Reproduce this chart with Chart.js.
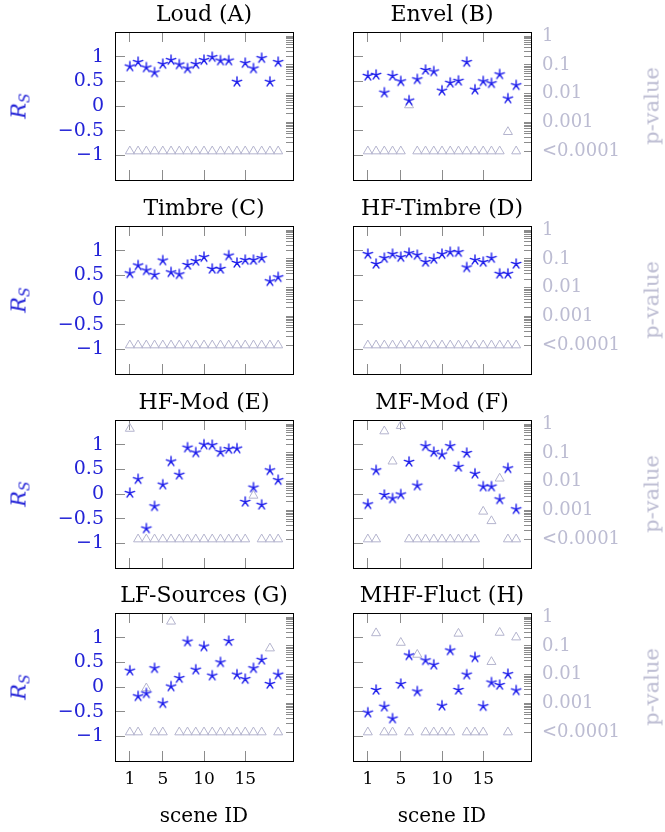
<!DOCTYPE html>
<html>
<head>
<meta charset="utf-8">
<script src="https://cdn.jsdelivr.net/npm/chart.js@4.4.1/dist/chart.umd.min.js"></script>
<style>
  html, body { margin: 0; padding: 0; background: #fff; }
  #wrap { position: relative; width: 665px; height: 832px; overflow: hidden; font-family: 'DejaVu Serif', serif; }
  #wrap canvas { position: absolute; }
  .rs, .pv { position: absolute; transform: translate(-50%, -50%) rotate(-90deg); white-space: nowrap; line-height: 1; }
  .rs { color: rgb(35, 35, 215); font-size: 21px; font-style: italic; }
  .rs sub { font-size: 14px; vertical-align: -4px; }
  .pv { color: rgb(188, 188, 210); font-size: 21px; }
</style>
</head>
<body>
<div id="wrap"></div>
<script>
// --- Data ---
const SCENES = [1, 2, 3, 4, 5, 6, 7, 8, 9, 10, 11, 12, 13, 14, 15, 16, 17, 18, 19];
const X_TICKS = [1, 5, 10, 15];
const RS_TICKS = [-1, -0.5, 0, 0.5, 1];
const P_TICKS = [1, 0.1, 0.01, 0.001, 0.0001];
const P_LABELS = ['1', '0.1', '0.01', '0.001', '<0.0001'];

const TITLES = ['Loud (A)', 'Envel (B)', 'Timbre (C)', 'HF-Timbre (D)', 'HF-Mod (E)', 'MF-Mod (F)', 'LF-Sources (G)', 'MHF-Fluct (H)'];

const loudRs = [0.80, 0.89, 0.78, 0.68, 0.85, 0.93, 0.84, 0.76, 0.85, 0.93, 0.99, 0.92, 0.92, 0.49, 0.87, 0.76, 0.97, 0.49, 0.89];
const loudP = [0.0001, 0.0001, 0.0001, 0.0001, 0.0001, 0.0001, 0.0001, 0.0001, 0.0001, 0.0001, 0.0001, 0.0001, 0.0001, 0.0001, 0.0001, 0.0001, 0.0001, 0.0001, 0.0001];

const envelRs = [0.61, 0.63, 0.27, 0.61, 0.50, 0.11, 0.54, 0.73, 0.70, 0.31, 0.47, 0.51, 0.89, 0.33, 0.50, 0.46, 0.64, 0.15, 0.42];
const envelP = [0.0001, 0.0001, 0.0001, 0.0001, 0.0001, 0.004, 0.0001, 0.0001, 0.0001, 0.0001, 0.0001, 0.0001, 0.0001, 0.0001, 0.0001, 0.0001, 0.0001, 0.00047, 0.0001];

const timbreRs = [0.54, 0.70, 0.60, 0.51, 0.80, 0.56, 0.52, 0.71, 0.79, 0.87, 0.63, 0.63, 0.90, 0.75, 0.81, 0.81, 0.85, 0.38, 0.46];
const timbreP = [0.0001, 0.0001, 0.0001, 0.0001, 0.0001, 0.0001, 0.0001, 0.0001, 0.0001, 0.0001, 0.0001, 0.0001, 0.0001, 0.0001, 0.0001, 0.0001, 0.0001, 0.0001, 0.0001];

const hfTimbreRs = [0.93, 0.73, 0.85, 0.93, 0.87, 0.95, 0.91, 0.77, 0.83, 0.93, 0.97, 0.97, 0.66, 0.81, 0.77, 0.85, 0.53, 0.53, 0.73];
const hfTimbreP = [0.0001, 0.0001, 0.0001, 0.0001, 0.0001, 0.0001, 0.0001, 0.0001, 0.0001, 0.0001, 0.0001, 0.0001, 0.0001, 0.0001, 0.0001, 0.0001, 0.0001, 0.0001, 0.0001];

const hfModRs = [0.02, 0.30, -0.70, -0.25, 0.19, 0.66, 0.39, 0.94, 0.84, 1.00, 0.99, 0.85, 0.91, 0.92, -0.16, 0.13, -0.22, 0.48, 0.28];
const hfModP = [0.7, 0.0001, 0.0001, 0.0001, 0.0001, 0.0001, 0.0001, 0.0001, 0.0001, 0.0001, 0.0001, 0.0001, 0.0001, 0.0001, 0.0001, 0.0033, 0.0001, 0.0001, 0.0001];

const mfModRs = [-0.21, 0.48, -0.02, -0.09, -0.01, 0.65, 0.17, 0.97, 0.85, 0.80, 0.97, 0.55, 0.83, 0.41, 0.15, 0.15, -0.11, 0.52, -0.31];
const mfModP = [0.0001, 0.0001, 0.57, 0.051, 0.87, 0.0001, 0.0001, 0.0001, 0.0001, 0.0001, 0.0001, 0.0001, 0.0001, 0.0001, 0.00092, 0.00043, 0.013, 0.0001, 0.0001];

const lfSourcesRs = [0.33, -0.19, -0.13, 0.38, -0.33, 0.01, 0.18, 0.92, 0.35, 0.82, 0.23, 0.50, 0.93, 0.25, 0.16, 0.38, 0.55, 0.06, 0.25];
const lfSourcesP = [0.0001, 0.0001, 0.0034, 0.0001, 0.0001, 0.71, 0.0001, 0.0001, 0.0001, 0.0001, 0.0001, 0.0001, 0.0001, 0.0001, 0.0001, 0.0001, 0.0001, 0.083, 0.0001];

const mhfFluctRs = [-0.52, -0.06, -0.40, -0.64, 0.06, 0.64, -0.09, 0.54, 0.45, -0.38, 0.74, -0.06, 0.25, 0.60, -0.39, 0.09, 0.04, 0.26, -0.07];
const mhfFluctP = [0.0001, 0.28, 0.0001, 0.0001, 0.13, 0.0001, 0.05, 0.0001, 0.0001, 0.0001, 0.0001, 0.27, 0.0001, 0.0001, 0.0001, 0.028, 0.29, 0.0001, 0.2];

const RS_SETS = [loudRs, envelRs, timbreRs, hfTimbreRs, hfModRs, mfModRs, lfSourcesRs, mhfFluctRs];
const P_SETS = [loudP, envelP, timbreP, hfTimbreP, hfModP, mfModP, lfSourcesP, mhfFluctP];

// --- Look ---
const BLUE = 'rgb(30, 30, 235)';
const BLUE_TEXT = 'rgb(35, 35, 215)';
const GREY = 'rgb(180, 180, 206)';
const GREY_TEXT = 'rgb(188, 188, 210)';
const TICK = '#8c8c8c';

Chart.defaults.font.family = "'DejaVu Serif', serif";
Chart.defaults.color = '#000';

// layout of the grid of panels (plot areas)
const COL_LEFT = [115, 353];
const COL_RIGHT = [293, 531];
const CANVAS_X = [0, 333];
const CANVAS_W = [320, 332];
const ROW_TOP = [32, 226, 420, 613];
const PLOT_H = 148;
const TITLE_H = 32;

// log minor ticks between the labelled decades
const pMinor = [];
P_TICKS.slice(1).forEach(d => {
    for (let k = 2; k <= 9; k++) pMinor.push(k * d);
});
const P_ALL = P_TICKS.concat(pMinor);

// pgfplots-like 5-ray star
function starImage(r, color) {
    const s = Math.ceil(2 * r + 4);
    const c = document.createElement('canvas');
    c.width = s; c.height = s;
    const g = c.getContext('2d');
    g.strokeStyle = color;
    g.lineWidth = 1.4;
    g.lineCap = 'round';
    g.beginPath();
    for (let k = 0; k < 5; k++) {
        const a = -Math.PI / 2 + k * 2 * Math.PI / 5;
        g.moveTo(s / 2, s / 2);
        g.lineTo(s / 2 + r * Math.cos(a), s / 2 + r * Math.sin(a));
    }
    g.stroke();
    return c;
}
const STAR = starImage(5, BLUE);

function pLabel(v) {
    const i = P_TICKS.findIndex(t => Math.abs(v - t) / t < 1e-6);
    return i >= 0 ? P_LABELS[i] : '';
}

// fix the size of an axis box so all plot areas line up
function fixSize(prop, val) {
    return s => {
        s[prop] = val;
        s.paddingLeft = 0; s.paddingRight = 0; s.paddingTop = 0; s.paddingBottom = 0;
    };
}

const wrap = document.getElementById('wrap');

function makePanel(i) {
    const col = i % 2, row = Math.floor(i / 2);
    const cx = CANVAS_X[col], cw = CANVAS_W[col];
    const cy = ROW_TOP[row] - TITLE_H;
    const bottomH = row === 3 ? 832 - (ROW_TOP[row] + PLOT_H) : 12;
    const ch = TITLE_H + PLOT_H + bottomH;
    const leftW = COL_LEFT[col] - cx;
    const rightW = cx + cw - COL_RIGHT[col];
    const showX = row === 3;
    const showL = col === 0;
    const showR = col === 1;

    const canvas = document.createElement('canvas');
    canvas.width = cw; canvas.height = ch;
    canvas.style.left = cx + 'px';
    canvas.style.top = cy + 'px';
    wrap.appendChild(canvas);

    const frame = { color: '#000', width: 1 };
    const xGrid = { drawOnChartArea: false, tickLength: -10, color: TICK };

    new Chart(canvas, {
        type: 'scatter',
        data: {
            datasets: [{
                data: SCENES.map((s, k) => ({ x: s, y: RS_SETS[i][k] })),
                xAxisID: 'x', yAxisID: 'yL',
                pointStyle: STAR,
                pointRadius: 5
            }, {
                data: SCENES.map((s, k) => ({ x: s, y: P_SETS[i][k] })),
                xAxisID: 'x', yAxisID: 'yR',
                pointStyle: 'triangle',
                pointRadius: 5.2,
                borderColor: GREY,
                backgroundColor: 'rgba(0,0,0,0)',
                borderWidth: 1
            }]
        },
        options: {
            responsive: false,
            animation: false,
            events: [],
            layout: { padding: 0 },
            plugins: { legend: { display: false }, tooltip: { enabled: false } },
            scales: {
                x: {
                    type: 'linear', position: 'bottom', min: -0.8, max: 20.8, bounds: 'data',
                    afterBuildTicks: s => { s.ticks = X_TICKS.map(v => ({ value: v })); },
                    ticks: { display: showX, padding: 18, autoSkip: false, maxRotation: 0, font: { size: 17 }, color: '#000' },
                    grid: xGrid,
                    border: frame,
                    title: { display: showX, text: 'scene ID', font: { size: 20 }, color: '#000', padding: { top: 0, bottom: 3 } },
                    afterFit: fixSize('height', bottomH)
                },
                xTop: {
                    type: 'linear', position: 'top', min: -0.8, max: 20.8, bounds: 'data',
                    afterBuildTicks: s => { s.ticks = X_TICKS.map(v => ({ value: v })); },
                    ticks: { display: false },
                    grid: xGrid,
                    border: frame,
                    title: { display: true, text: TITLES[i], font: { size: 22 }, color: '#000', padding: { top: 2, bottom: 0 } },
                    afterFit: fixSize('height', TITLE_H)
                },
                yL: {
                    type: 'linear', position: 'left', min: -1.5, max: 1.5, bounds: 'data',
                    afterBuildTicks: s => { s.ticks = RS_TICKS.map(v => ({ value: v })); },
                    ticks: {
                        display: showL, padding: 21, autoSkip: false, font: { size: 19 }, color: BLUE_TEXT,
                        callback: v => String(v).replace('-', '\u2212')
                    },
                    grid: { drawOnChartArea: false, tickLength: -10, color: TICK },
                    border: frame,
                    afterFit: fixSize('width', leftW)
                },
                yR: {
                    type: 'logarithmic', position: 'right', min: 0.00001, max: 1.4, bounds: 'data',
                    afterBuildTicks: s => { s.ticks = P_ALL.map(v => ({ value: v })); },
                    ticks: { display: showR, padding: 18, autoSkip: false, font: { size: 18 }, color: GREY_TEXT, callback: pLabel },
                    grid: { drawOnChartArea: false, tickLength: -7, color: TICK },
                    border: frame,
                    afterFit: fixSize('width', rightW)
                }
            }
        }
    });

    // rotated axis titles (need subscript / bottom-to-top reading)
    const mid = ROW_TOP[row] + PLOT_H / 2;
    if (showL) {
        const d = document.createElement('div');
        d.className = 'rs';
        d.innerHTML = 'R<sub>S</sub>';
        d.style.left = '20px';
        d.style.top = mid + 'px';
        wrap.appendChild(d);
    }
    if (showR) {
        const d = document.createElement('div');
        d.className = 'pv';
        d.textContent = 'p-value';
        d.style.left = '652px';
        d.style.top = mid + 'px';
        wrap.appendChild(d);
    }
}

TITLES.forEach((t, i) => makePanel(i));
</script>
</body>
</html>
